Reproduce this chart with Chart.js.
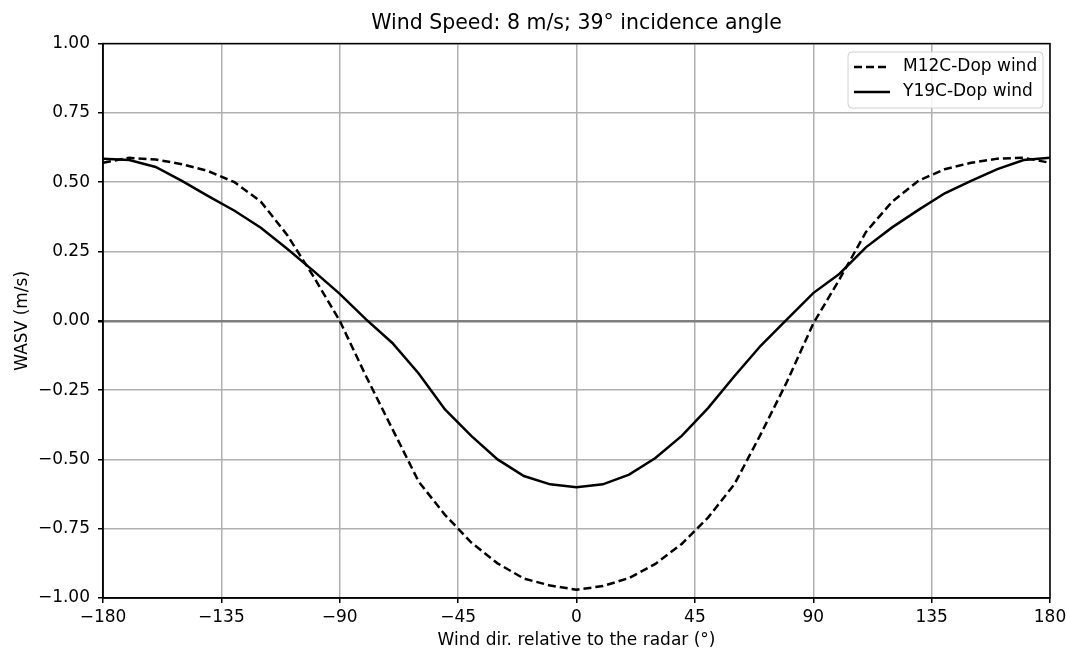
<!DOCTYPE html>
<html>
<head>
<meta charset="utf-8">
<script src="https://cdn.jsdelivr.net/npm/chart.js@4/dist/chart.umd.min.js"></script>
<style>
  html, body { margin: 0; padding: 0; background: #fff; }
  #wrap { width: 1067px; height: 653px; position: relative; }
</style>
</head>
<body>
<div id="wrap"><canvas id="chart"></canvas></div>
<script>
// wind direction relative to radar (deg)
const windDir = [-180,-170,-160,-150,-140,-130,-120,-110,-100,-90,-80,-70,-60,-50,-40,-30,-20,-10,
                 0,10,20,30,40,50,60,70,80,90,100,110,120,130,140,150,160,170,180];
// WASV (m/s)
const m12c = [0.57,0.588,0.582,0.565,0.54,0.50,0.43,0.31,0.16,0.00,-0.20,-0.39,-0.58,-0.70,-0.80,-0.875,-0.93,-0.955,
              -0.97,-0.957,-0.928,-0.877,-0.805,-0.71,-0.59,-0.41,-0.22,-0.01,0.15,0.32,0.43,0.505,0.547,0.57,0.585,0.588,0.57];
const y19c = [0.585,0.58,0.555,0.505,0.45,0.397,0.336,0.26,0.18,0.097,0.005,-0.08,-0.19,-0.32,-0.415,-0.50,-0.56,-0.59,
              -0.60,-0.59,-0.555,-0.495,-0.415,-0.315,-0.20,-0.09,0.005,0.10,0.17,0.265,0.337,0.40,0.46,0.505,0.547,0.58,0.588];
const seriesNames = ['M12C-Dop wind', 'Y19C-Dop wind'];
const xTicks = [-180, -135, -90, -45, 0, 45, 90, 135, 180];

const FONT = 'DejaVu Sans';

function fmtMinus(s) {
    return String(s).replace('-', '\u2212');
}

function toPoints(ys) {
    return windDir.map((d, i) => ({ x: d, y: ys[i] }));
}

// frame on top/right + legend box inside the plot
const framePlugin = {
    id: 'frame',
    afterDraw(chart) {
        const { ctx, chartArea: a } = chart;
        ctx.save();
        ctx.strokeStyle = '#000';
        ctx.lineWidth = 1.5;
        ctx.strokeRect(a.left, a.top, a.right - a.left, a.bottom - a.top);

        // legend
        const bx = 848, by = 52, bw = 195, bh = 56;
        ctx.fillStyle = 'rgba(255,255,255,0.85)';
        ctx.strokeStyle = '#d0d0d0';
        ctx.lineWidth = 1;
        ctx.beginPath();
        ctx.roundRect(bx, by, bw, bh, 4);
        ctx.fill();
        ctx.stroke();
        ctx.font = '17px "' + FONT + '"';
        ctx.textBaseline = 'middle';
        chart.data.datasets.forEach((ds, i) => {
            const y = by + 15 + i * 25;
            ctx.strokeStyle = '#000';
            ctx.lineWidth = 2.5;
            ctx.setLineDash(ds.borderDash || []);
            ctx.beginPath();
            ctx.moveTo(bx + 6, y);
            ctx.lineTo(bx + 42, y);
            ctx.stroke();
            ctx.setLineDash([]);
            ctx.fillStyle = '#000';
            ctx.fillText(ds.label, bx + 55, y);
        });
        ctx.restore();
    }
};

new Chart(document.getElementById('chart'), {
    type: 'line',
    data: {
        datasets: [
            {
                label: seriesNames[0],
                data: toPoints(m12c),
                borderColor: '#000',
                borderWidth: 2.5,
                borderDash: [8, 4],
                pointRadius: 0,
                tension: 0,
                fill: false
            },
            {
                label: seriesNames[1],
                data: toPoints(y19c),
                borderColor: '#000',
                borderWidth: 2.5,
                pointRadius: 0,
                tension: 0,
                fill: false
            }
        ]
    },
    options: {
        responsive: true,
        maintainAspectRatio: false,
        animation: false,
        layout: { padding: { left: 0, right: 17, top: 0, bottom: 0 } },
        plugins: {
            legend: { display: false },
            tooltip: { enabled: false },
            title: {
                display: true,
                fullSize: false,
                text: 'Wind Speed: 8 m/s; 39\u00b0 incidence angle',
                color: '#000',
                font: { family: FONT, size: 20.5, weight: 'normal' },
                padding: { top: 11, bottom: 8 }
            }
        },
        scales: {
            x: {
                type: 'linear',
                min: -180,
                max: 180,
                afterBuildTicks: (scale) => { scale.ticks = xTicks.map(v => ({ value: v })); },
                afterFit: (scale) => {
                    scale.height = 55;
                    scale.paddingLeft = 0;
                    scale.paddingRight = 0;
                },
                ticks: {
                    color: '#000',
                    font: { family: FONT, size: 17 },
                    padding: 4,
                    maxRotation: 0,
                    callback: (v) => fmtMinus(v)
                },
                grid: {
                    color: '#b0b0b0',
                    lineWidth: 1.5,
                    tickColor: '#000',
                    tickLength: 5
                },
                border: { display: true, color: '#000', width: 1.5 },
                title: {
                    display: true,
                    text: 'Wind dir. relative to the radar (\u00b0)',
                    color: '#000',
                    font: { family: FONT, size: 17 },
                    padding: { top: 0, bottom: 2 }
                }
            },
            y: {
                min: -1,
                max: 1,
                afterFit: (scale) => { scale.width = 103; },
                ticks: {
                    stepSize: 0.25,
                    color: '#000',
                    font: { family: FONT, size: 17 },
                    padding: 8,
                    callback: (v) => fmtMinus(Number(v).toFixed(2))
                },
                grid: {
                    color: (c) => (c.tick && c.tick.value === 0) ? '#7f7f7f' : '#b0b0b0',
                    lineWidth: (c) => (c.tick && c.tick.value === 0) ? 2.5 : 1.5,
                    tickColor: '#000',
                    tickLength: 5
                },
                border: { display: true, color: '#000', width: 1.5 },
                title: {
                    display: true,
                    text: 'WASV (m/s)',
                    color: '#000',
                    font: { family: FONT, size: 17 },
                    padding: { top: 12, bottom: 0 }
                }
            }
        }
    },
    plugins: [framePlugin]
});
</script>
</body>
</html>
